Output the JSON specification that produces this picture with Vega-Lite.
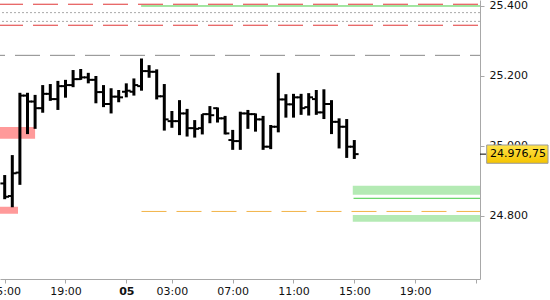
{
  "$schema": "https://vega.github.io/schema/vega-lite/v6.json",
  "width": 480,
  "height": 279,
  "autosize": {"type": "none"},
  "padding": {"left": 0, "top": 0, "right": 70, "bottom": 21},
  "background": "white",
  "config": {
    "view": {"stroke": null},
    "axis": {"domainColor": "#a8a8a8", "tickColor": "#a8a8a8", "labelColor": "#111111", "labelFont": "DejaVu Sans", "labelFontSize": 11, "grid": false, "tickSize": 4}
  },
  "datasets": {
    "bars": [
      {"t": 0, "o": 24893, "h": 24917, "l": 24848, "c": 24855},
      {"t": 1, "o": 24857, "h": 24974, "l": 24825, "c": 24922},
      {"t": 2, "o": 24924, "h": 25152, "l": 24889, "c": 25144},
      {"t": 3, "o": 25144, "h": 25152, "l": 25034, "c": 25127},
      {"t": 4, "o": 25127, "h": 25146, "l": 25049, "c": 25108},
      {"t": 5, "o": 25108, "h": 25174, "l": 25095, "c": 25149},
      {"t": 6, "o": 25149, "h": 25177, "l": 25129, "c": 25134},
      {"t": 7, "o": 25134, "h": 25186, "l": 25103, "c": 25171},
      {"t": 8, "o": 25171, "h": 25189, "l": 25138, "c": 25174},
      {"t": 9, "o": 25174, "h": 25217, "l": 25168, "c": 25191},
      {"t": 10, "o": 25191, "h": 25220, "l": 25189, "c": 25196},
      {"t": 11, "o": 25196, "h": 25209, "l": 25179, "c": 25189},
      {"t": 12, "o": 25189, "h": 25200, "l": 25122, "c": 25154},
      {"t": 13, "o": 25154, "h": 25174, "l": 25111, "c": 25120},
      {"t": 14, "o": 25120, "h": 25165, "l": 25093, "c": 25141},
      {"t": 15, "o": 25141, "h": 25160, "l": 25125, "c": 25139},
      {"t": 16, "o": 25155, "h": 25179, "l": 25139, "c": 25158},
      {"t": 17, "o": 25155, "h": 25193, "l": 25144, "c": 25174},
      {"t": 18, "o": 25171, "h": 25250, "l": 25158, "c": 25214},
      {"t": 19, "o": 25214, "h": 25231, "l": 25195, "c": 25212},
      {"t": 20, "o": 25212, "h": 25219, "l": 25133, "c": 25142},
      {"t": 21, "o": 25142, "h": 25177, "l": 25044, "c": 25076},
      {"t": 22, "o": 25071, "h": 25100, "l": 25052, "c": 25071},
      {"t": 23, "o": 25071, "h": 25131, "l": 25031, "c": 25093},
      {"t": 24, "o": 25093, "h": 25106, "l": 25027, "c": 25051},
      {"t": 25, "o": 25051, "h": 25074, "l": 25024, "c": 25049},
      {"t": 26, "o": 25051, "h": 25091, "l": 25033, "c": 25091},
      {"t": 27, "o": 25091, "h": 25114, "l": 25065, "c": 25088},
      {"t": 28, "o": 25108, "h": 25110, "l": 25067, "c": 25079},
      {"t": 29, "o": 25079, "h": 25086, "l": 25033, "c": 25036},
      {"t": 30, "o": 25017, "h": 25046, "l": 24989, "c": 25014},
      {"t": 31, "o": 25014, "h": 25098, "l": 24989, "c": 25093},
      {"t": 32, "o": 25093, "h": 25103, "l": 25049, "c": 25091},
      {"t": 33, "o": 25091, "h": 25093, "l": 25041, "c": 25076},
      {"t": 34, "o": 25076, "h": 25086, "l": 24989, "c": 24998},
      {"t": 35, "o": 24998, "h": 25060, "l": 24991, "c": 25055},
      {"t": 36, "o": 25055, "h": 25209, "l": 25039, "c": 25133},
      {"t": 37, "o": 25133, "h": 25148, "l": 25081, "c": 25119},
      {"t": 38, "o": 25119, "h": 25149, "l": 25081, "c": 25139},
      {"t": 39, "o": 25139, "h": 25149, "l": 25089, "c": 25108},
      {"t": 40, "o": 25111, "h": 25151, "l": 25087, "c": 25139},
      {"t": 41, "o": 25134, "h": 25160, "l": 25089, "c": 25096},
      {"t": 42, "o": 25096, "h": 25162, "l": 25077, "c": 25120},
      {"t": 43, "o": 25120, "h": 25131, "l": 25034, "c": 25069},
      {"t": 44, "o": 25069, "h": 25079, "l": 24993, "c": 25055},
      {"t": 45, "o": 25055, "h": 25077, "l": 24966, "c": 24998},
      {"t": 46, "o": 24998, "h": 25017, "l": 24963, "c": 24976.75}
    ],
    "zones": [
      {"x1": -0.62, "x2": 4.0, "top": 25054, "bottom": 25021, "zone": "sell"},
      {"x1": -0.62, "x2": 1.75, "top": 24826.5, "bottom": 24806.5, "zone": "sell"},
      {"x1": 45.8, "x2": 62.54, "top": 24886.6, "bottom": 24860.8, "zone": "buy"},
      {"x1": 45.8, "x2": 62.54, "top": 24802.8, "bottom": 24783.7, "zone": "buy"}
    ],
    "last": [{"price": 24976.75, "label": "24.976,75"}]
  },
  "layer": [
    {
      "data": {"name": "zones"},
      "mark": {"type": "rect"},
      "encoding": {
        "x": {"field": "x1", "type": "quantitative", "title": null,
              "scale": {"domain": [-0.618, 62.54], "nice": false, "zero": false},
              "axis": {"values": [0, 8, 16, 22, 30, 38, 46, 54, 62],
                       "labelExpr": "datum.value == 0 ? '15:00' : datum.value == 8 ? '19:00' : datum.value == 16 ? '05' : datum.value == 22 ? '03:00' : datum.value == 30 ? '07:00' : datum.value == 38 ? '11:00' : datum.value == 46 ? '15:00' : datum.value == 54 ? '19:00' : ''",
                       "labelFlush": false, "labelOverlap": false, "labelBound": false, "labelPadding": 2,
                       "labelFontWeight": {"condition": {"test": "datum.value == 16", "value": "bold"}, "value": "normal"}}},
        "x2": {"field": "x2"},
        "y": {"field": "top", "type": "quantitative", "title": null,
              "scale": {"domain": [24620, 25417.1], "nice": false, "zero": false},
              "axis": {"orient": "right", "values": [24800, 25000, 25200, 25400],
                       "labelExpr": "replace(format(datum.value, ','), ',', '.')",
                       "labelPadding": 5, "labelFlush": false, "labelOverlap": false}},
        "y2": {"field": "bottom"},
        "color": {"field": "zone", "type": "nominal", "legend": null,
                  "scale": {"domain": ["sell", "buy"], "range": ["#ff9a9a", "#b4eab4"]}}
      }
    },
    {
      "data": {"values": [{"v": 25405}, {"v": 25345}]},
      "mark": {"type": "rule", "color": "#e03636", "strokeWidth": 1, "strokeDash": [25, 10], "strokeDashOffset": 33},
      "encoding": {"y": {"field": "v", "type": "quantitative", "title": null}}
    },
    {
      "data": {"values": [{"v": 25259}]},
      "mark": {"type": "rule", "color": "#888888", "strokeWidth": 1, "strokeDash": [25, 10], "strokeDashOffset": 15},
      "encoding": {"y": {"field": "v", "type": "quantitative", "title": null}}
    },
    {
      "data": {"values": [{"v": 25381}, {"v": 25356}]},
      "mark": {"type": "rule", "color": "#a8a8a8", "strokeWidth": 1, "strokeDash": [2, 2]},
      "encoding": {"y": {"field": "v", "type": "quantitative", "title": null}}
    },
    {
      "data": {"values": [{"x1": 17.95, "x2": 62.54, "v": 25400}, {"x1": 45.9, "x2": 62.54, "v": 24850.6}]},
      "mark": {"type": "rule", "color": "#44cc44", "strokeWidth": 1},
      "encoding": {
        "x": {"field": "x1", "type": "quantitative", "title": null},
        "x2": {"field": "x2"},
        "y": {"field": "v", "type": "quantitative", "title": null}
      }
    },
    {
      "data": {"values": [{"x1": 18.0, "x2": 62.54, "v": 24813}]},
      "mark": {"type": "rule", "color": "#f2b347", "strokeWidth": 1, "strokeDash": [25, 10]},
      "encoding": {
        "x": {"field": "x1", "type": "quantitative", "title": null},
        "x2": {"field": "x2"},
        "y": {"field": "v", "type": "quantitative", "title": null}
      }
    },
    {
      "data": {"name": "bars"},
      "mark": {"type": "rule", "color": "#000000", "strokeWidth": 3},
      "encoding": {
        "x": {"field": "t", "type": "quantitative", "title": null},
        "y": {"field": "l", "type": "quantitative", "title": null},
        "y2": {"field": "h"}
      }
    },
    {
      "data": {"name": "bars"},
      "mark": {"type": "rule", "color": "#000000", "strokeWidth": 2, "xOffset": -4.3, "x2Offset": 0},
      "encoding": {
        "x": {"field": "t", "type": "quantitative", "title": null},
        "x2": {"field": "t"},
        "y": {"field": "o", "type": "quantitative", "title": null}
      }
    },
    {
      "data": {"name": "bars"},
      "mark": {"type": "rule", "color": "#000000", "strokeWidth": 2, "xOffset": 0, "x2Offset": 4.3},
      "encoding": {
        "x": {"field": "t", "type": "quantitative", "title": null},
        "x2": {"field": "t"},
        "y": {"field": "c", "type": "quantitative", "title": null}
      }
    },
    {
      "data": {"name": "last"},
      "mark": {"type": "rule", "color": "#000000", "strokeWidth": 1},
      "encoding": {
        "x": {"datum": 62.54, "type": "quantitative", "title": null},
        "x2": {"datum": 63.33},
        "y": {"field": "price", "type": "quantitative", "title": null}
      }
    },
    {
      "data": {"name": "last"},
      "mark": {"type": "rect", "stroke": "#9a9a9a", "strokeWidth": 1,
               "color": {"gradient": "linear", "x1": 0, "y1": 0, "x2": 0, "y2": 1,
                         "stops": [{"offset": 0, "color": "#ffe34a"}, {"offset": 1, "color": "#f5c400"}]}},
      "encoding": {
        "x": {"datum": 63.42, "type": "quantitative", "title": null},
        "x2": {"datum": 71.49},
        "y": {"datum": 25002.8, "type": "quantitative", "title": null},
        "y2": {"datum": 24950.6}
      }
    },
    {
      "data": {"name": "last"},
      "mark": {"type": "text", "align": "left", "baseline": "middle", "font": "DejaVu Sans", "fontSize": 11, "color": "#000000"},
      "encoding": {
        "x": {"datum": 63.86, "type": "quantitative", "title": null},
        "y": {"field": "price", "type": "quantitative", "title": null},
        "text": {"field": "label"}
      }
    }
  ]
}
